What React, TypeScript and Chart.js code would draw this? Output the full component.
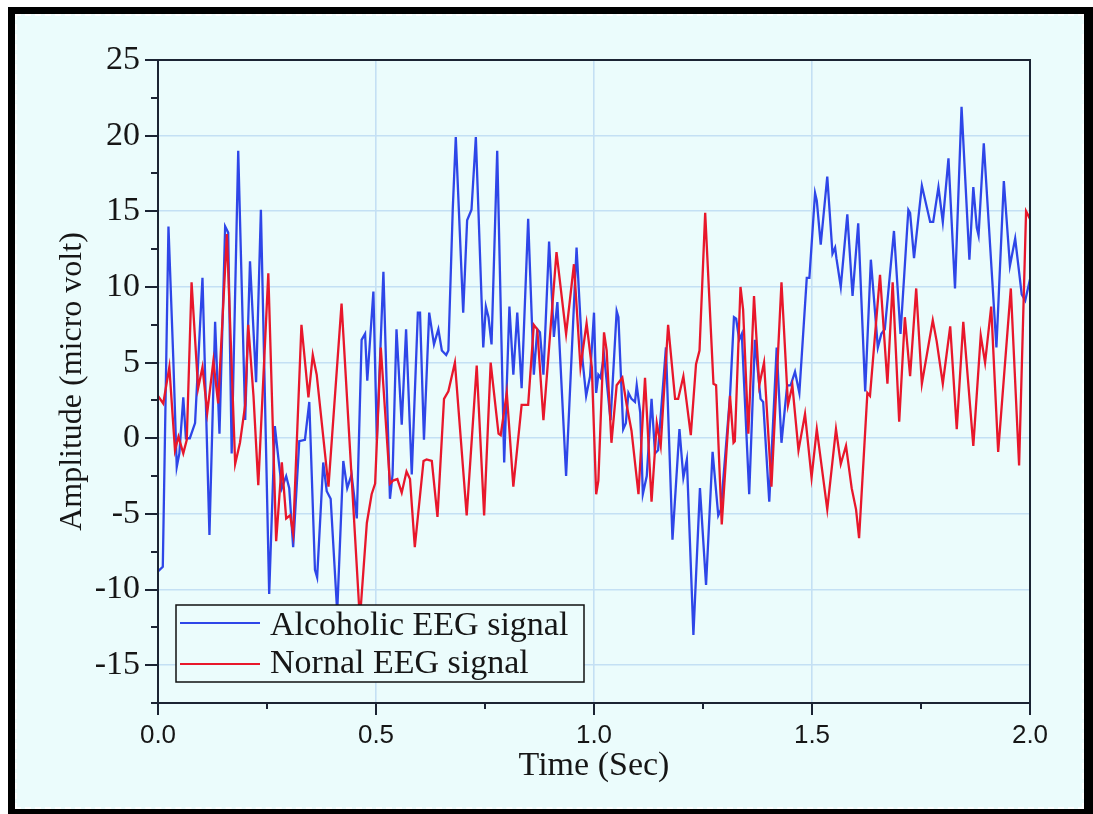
import React, { useEffect, useRef } from "react";
import { Chart, registerables } from "chart.js";

Chart.register(...registerables);

// ---- data ----
const alcoholicTime = [
  0.000, 0.011, 0.024, 0.035, 0.043, 0.049, 0.058, 0.064, 0.073, 0.085,
  0.102, 0.118, 0.131, 0.141, 0.154, 0.161, 0.169, 0.184, 0.200, 0.211,
  0.225, 0.236, 0.245, 0.255, 0.268, 0.276, 0.284, 0.294, 0.301, 0.310,
  0.324, 0.337, 0.347, 0.360, 0.365, 0.379, 0.387, 0.396, 0.411, 0.425,
  0.434, 0.444, 0.456, 0.467, 0.475, 0.480, 0.494, 0.502, 0.517, 0.532,
  0.538, 0.547, 0.559, 0.569, 0.582, 0.596, 0.601, 0.610, 0.622, 0.633,
  0.643, 0.651, 0.661, 0.666, 0.676, 0.683, 0.700, 0.709, 0.719, 0.729,
  0.746, 0.752, 0.758, 0.765, 0.778, 0.794, 0.806, 0.815, 0.824, 0.834,
  0.849, 0.862, 0.870, 0.876, 0.884, 0.897, 0.908, 0.916, 0.936, 0.960,
  0.974, 0.982, 0.991, 1.000, 1.005, 1.010, 1.015, 1.023, 1.038, 1.052,
  1.056, 1.067, 1.073, 1.079, 1.086, 1.094, 1.098, 1.106, 1.112, 1.121,
  1.132, 1.140, 1.147, 1.165, 1.180, 1.196, 1.205, 1.213, 1.228, 1.243,
  1.257, 1.272, 1.285, 1.291, 1.312, 1.321, 1.326, 1.333, 1.339, 1.356,
  1.369, 1.382, 1.388, 1.402, 1.419, 1.430, 1.443, 1.451, 1.461, 1.471,
  1.488, 1.494, 1.507, 1.511, 1.520, 1.535, 1.547, 1.553, 1.556, 1.566,
  1.581, 1.593, 1.606, 1.622, 1.635, 1.651, 1.659, 1.667, 1.688, 1.703,
  1.721, 1.725, 1.734, 1.752, 1.771, 1.778, 1.790, 1.800, 1.813, 1.828,
  1.843, 1.861, 1.870, 1.878, 1.882, 1.894, 1.923, 1.940, 1.954, 1.966,
  1.981, 1.989, 2.000,
];
const alcoholicAmp = [
  -8.8, -8.5, 14.0, 5.3, -1.9, -1.0, 2.7, 0.0, 0.0, 1.0,
  10.6, -6.4, 7.7, 0.3, 14.0, 13.6, -1.0, 19.0, 1.2, 11.7,
  3.7, 15.1, 3.0, -10.3, 0.8, -1.3, -3.3, -2.5, -3.3, -7.2,
  -0.2, -0.1, 2.4, -8.7, -9.2, -1.6, -3.5, -4.0, -11.5, -1.5,
  -3.3, -2.4, -5.3, 6.5, 6.9, 3.8, 9.7, -0.1, 11.0, -4.0,
  -2.4, 7.2, 0.9, 7.2, -2.4, 8.3, 8.3, -0.1, 8.3, 6.2,
  7.2, 5.8, 5.5, 5.8, 15.1, 19.9, 8.3, 14.4, 15.1, 19.9,
  6.0, 8.7, 8.0, 6.2, 19.0, -1.6, 8.7, 4.2, 8.3, 3.3,
  14.5, 4.2, 7.2, 7.0, 4.2, 13.0, 6.7, 9.0, -2.5, 12.6,
  5.1, 2.8, 4.1, 8.3, 3.0, 4.2, 4.0, 5.5, 1.2, 8.4,
  8.0, 0.6, 1.0, 3.0, 2.6, 2.4, 3.5, 1.7, -3.7, -2.5,
  2.6, -1.0, -0.8, 6.0, -6.7, 0.6, -2.6, -1.4, -13.0, -3.3,
  -9.7, -0.9, -5.1, -4.7, 2.8, 8.0, 7.9, 6.5, 6.9, -3.7,
  6.5, 2.6, 2.4, -4.2, 6.0, -0.3, 3.5, 3.5, 4.4, 3.0,
  10.6, 10.6, 16.2, 15.7, 12.8, 17.3, 12.2, 12.6, 11.9, 10.0,
  14.8, 9.4, 14.2, 3.1, 11.8, 6.0, 6.9, 7.2, 13.7, 6.9,
  15.1, 14.9, 11.9, 16.7, 14.3, 14.3, 16.6, 14.3, 18.5, 9.9,
  21.9, 11.8, 16.6, 13.9, 13.4, 19.5, 6.0, 17.0, 11.4, 13.2,
  9.5, 9.1, 10.5,
];

const normalTime = [
  0.000, 0.012, 0.026, 0.039, 0.047, 0.058, 0.066, 0.077, 0.092, 0.102,
  0.113, 0.127, 0.138, 0.158, 0.177, 0.188, 0.200, 0.207, 0.219, 0.230,
  0.253, 0.271, 0.284, 0.294, 0.303, 0.310, 0.329, 0.345, 0.355, 0.364,
  0.391, 0.421, 0.463, 0.479, 0.490, 0.498, 0.511, 0.532, 0.539, 0.549,
  0.559, 0.570, 0.578, 0.589, 0.609, 0.616, 0.628, 0.641, 0.656, 0.666,
  0.681, 0.708, 0.731, 0.748, 0.763, 0.781, 0.786, 0.800, 0.815, 0.834,
  0.849, 0.862, 0.870, 0.884, 0.914, 0.936, 0.954, 0.969, 0.983, 0.995,
  1.005, 1.010, 1.023, 1.029, 1.040, 1.052, 1.065, 1.075, 1.086, 1.102,
  1.117, 1.132, 1.144, 1.153, 1.170, 1.186, 1.193, 1.205, 1.222, 1.234,
  1.242, 1.255, 1.274, 1.280, 1.293, 1.312, 1.320, 1.323, 1.336, 1.342,
  1.354, 1.367, 1.379, 1.390, 1.407, 1.430, 1.445, 1.455, 1.469, 1.484,
  1.499, 1.511, 1.535, 1.555, 1.566, 1.578, 1.591, 1.601, 1.608, 1.627,
  1.633, 1.656, 1.673, 1.685, 1.700, 1.713, 1.725, 1.739, 1.752, 1.777,
  1.786, 1.800, 1.817, 1.832, 1.847, 1.870, 1.887, 1.897, 1.911, 1.927,
  1.956, 1.975, 1.991, 2.000,
];
const normalAmp = [
  2.8, 2.3, 4.7, -0.8, 0.1, -1.0, -0.1, 10.3, 3.3, 4.7,
  1.7, 5.1, 2.3, 13.5, -1.7, -0.3, 2.2, 7.5, 2.8, -3.1,
  10.9, -6.8, -1.6, -5.3, -5.1, -6.3, 7.5, 2.7, 5.5, 4.2,
  -3.2, 8.9, -12.0, -5.6, -3.7, -3.0, 6.0, -3.0, -2.8, -2.7,
  -3.6, -2.2, -2.7, -7.2, -1.5, -1.4, -1.5, -5.2, 2.6, 3.1,
  5.0, -5.1, 4.8, -5.1, 5.0, 0.3, 0.2, 3.0, -3.2, 2.2,
  2.2, 7.5, 7.2, 1.2, 12.3, 6.9, 11.5, 4.7, 7.6, 4.7,
  -3.7, -2.8, 7.0, 5.8, -0.3, 3.5, 4.0, 2.2, 0.5, -3.7,
  4.0, -4.2, 1.0, -0.5, 7.5, 2.6, 2.6, 4.1, 0.2, 4.9,
  5.8, 14.9, 3.6, 3.5, -5.7, 2.8, -0.3, -0.2, 10.0, 8.5,
  0.3, 9.4, 3.5, 5.0, -3.2, 10.3, 2.2, 3.5, -0.8, 1.6,
  -2.6, 0.6, -4.7, 0.6, -1.7, -0.5, -3.3, -4.7, -6.6, 3.0,
  2.8, 10.8, 3.6, 10.3, 1.1, 8.0, 4.1, 9.9, 3.6, 7.8,
  6.4, 3.6, 7.4, 0.6, 7.7, -0.5, 6.8, 5.0, 8.7, -0.9,
  9.9, -1.8, 15.0, 14.5,
];

const seriesLabels = ["Alcoholic EEG signal", "Nornal EEG signal"];
const xTickValues = [0, 0.5, 1.0, 1.5, 2.0];
const xMinorValues = [0.25, 0.75, 1.25, 1.75];
const yTickValues = [-15, -10, -5, 0, 5, 10, 15, 20, 25];
const yMinorValues = [-17.5, -12.5, -7.5, -2.5, 2.5, 7.5, 12.5, 17.5, 22.5];
const xRange = [0, 2];
const yRange = [-17.5, 25];

// ---- styling ----
const BLUE = "#2e46e8";
const RED = "#e8172b";
const BG = "#ebfcfc";
const GRID = "#c4e0f4";
const AXIS = "#1b2433";
const TEXT = "#161616";
const SERIF = '"Liberation Serif", "Times New Roman", serif';
const SANS = '"Liberation Sans", Arial, sans-serif';

const framePlugin = {
  id: "frameTicksLegend",
  afterDraw(chart: any) {
    const { ctx, chartArea: a, scales } = chart;
    const xs = scales.x;
    const ys = scales.y;
    ctx.save();
    // plot frame
    ctx.strokeStyle = AXIS;
    ctx.lineWidth = 2;
    ctx.strokeRect(a.left, a.top, a.right - a.left, a.bottom - a.top);
    // tick marks
    ctx.beginPath();
    yTickValues.forEach((v) => {
      const p = Math.round(ys.getPixelForValue(v));
      ctx.moveTo(a.left - 13, p);
      ctx.lineTo(a.left, p);
    });
    yMinorValues.forEach((v) => {
      const p = Math.round(ys.getPixelForValue(v));
      ctx.moveTo(a.left - 7, p);
      ctx.lineTo(a.left, p);
    });
    xTickValues.forEach((v) => {
      const p = Math.round(xs.getPixelForValue(v));
      ctx.moveTo(p, a.bottom);
      ctx.lineTo(p, a.bottom + 12);
    });
    xMinorValues.forEach((v) => {
      const p = Math.round(xs.getPixelForValue(v));
      ctx.moveTo(p, a.bottom);
      ctx.lineTo(p, a.bottom + 6);
    });
    ctx.stroke();

    // legend box
    const bx = a.left + 18;
    const bw = 408;
    const bh = 77;
    const by = a.bottom - 21 - bh;
    ctx.fillStyle = BG;
    ctx.fillRect(bx, by, bw, bh);
    ctx.strokeStyle = "#111";
    ctx.lineWidth = 1.5;
    ctx.strokeRect(bx, by, bw, bh);
    const rows = [
      { lineY: by + 18, baseY: by + 30 },
      { lineY: by + 59, baseY: by + 68 },
    ];
    chart.data.datasets.forEach((ds: any, i: number) => {
      const r = rows[i];
      ctx.strokeStyle = ds.borderColor;
      ctx.lineWidth = 2.2;
      ctx.beginPath();
      ctx.moveTo(bx + 4, r.lineY);
      ctx.lineTo(bx + 84, r.lineY);
      ctx.stroke();
      ctx.fillStyle = TEXT;
      ctx.font = `34px ${SERIF}`;
      ctx.textAlign = "left";
      ctx.textBaseline = "alphabetic";
      ctx.fillText(ds.label, bx + 94, r.baseY);
    });
    ctx.restore();
  },
};

export default function App() {
  const ref = useRef<HTMLCanvasElement>(null);

  useEffect(() => {
    const canvas = ref.current;
    if (!canvas) return;
    const alcoholicData = alcoholicTime.map((t, i) => ({ x: t, y: alcoholicAmp[i] }));
    const normalData = normalTime.map((t, i) => ({ x: t, y: normalAmp[i] }));
    const interior = (v: number, lo: number, hi: number) => v > lo + 1e-6 && v < hi - 1e-6;

    const chart = new Chart(canvas, {
      type: "line",
      data: {
        datasets: [
          {
            label: seriesLabels[0],
            data: alcoholicData,
            borderColor: BLUE,
            backgroundColor: BLUE,
            borderWidth: 2.3,
            pointRadius: 0,
            tension: 0,
            order: 2,
          },
          {
            label: seriesLabels[1],
            data: normalData,
            borderColor: RED,
            backgroundColor: RED,
            borderWidth: 2.3,
            pointRadius: 0,
            tension: 0,
            order: 1,
          },
        ],
      },
      options: {
        responsive: false,
        animation: false,
        layout: { padding: { left: 0, right: 63, top: 60, bottom: 0 } },
        plugins: { legend: { display: false }, tooltip: { enabled: false } },
        scales: {
          x: {
            type: "linear",
            min: xRange[0],
            max: xRange[1],
            afterBuildTicks: (s: any) => {
              s.ticks = xTickValues.map((v) => ({ value: v }));
            },
            afterFit: (s: any) => {
              s.height = 111;
            },
            grid: {
              drawTicks: false,
              lineWidth: 1.6,
              color: (c: any) =>
                c.tick && interior(c.tick.value, xRange[0], xRange[1]) ? GRID : "rgba(0,0,0,0)",
            },
            border: { display: false },
            ticks: {
              padding: 17,
              autoSkip: false,
              maxRotation: 0,
              color: TEXT,
              font: { family: SANS, size: 26 },
              callback: (v: any) => Number(v).toFixed(1),
            },
            title: {
              display: true,
              text: "Time (Sec)",
              color: TEXT,
              font: { family: SERIF, size: 34 },
              padding: { top: 0, bottom: 28 },
            },
          },
          y: {
            type: "linear",
            min: yRange[0],
            max: yRange[1],
            afterBuildTicks: (s: any) => {
              s.ticks = yTickValues.map((v) => ({ value: v }));
            },
            afterFit: (s: any) => {
              s.width = 158;
            },
            grid: {
              drawTicks: false,
              lineWidth: 1.6,
              color: (c: any) =>
                c.tick && interior(c.tick.value, yRange[0], yRange[1]) ? GRID : "rgba(0,0,0,0)",
            },
            border: { display: false },
            ticks: {
              padding: 18,
              autoSkip: false,
              color: TEXT,
              font: { family: SERIF, size: 34 },
              callback: (v: any) => String(v),
            },
            title: {
              display: true,
              text: "Amplitude (micro volt)",
              color: TEXT,
              font: { family: SERIF, size: 32 },
              padding: { top: 53, bottom: 0 },
            },
          },
        },
      },
      plugins: [framePlugin],
    } as any);

    return () => chart.destroy();
  }, []);

  return (
    <div
      style={{
        position: "absolute",
        left: 0,
        top: 0,
        width: 1093,
        height: 814,
        background: "#ffffff",
        overflow: "hidden",
      }}
    >
      <div
        style={{ position: "absolute", left: 8, top: 7, width: 1085, height: 807, background: "#000" }}
      />
      <div
        style={{
          position: "absolute",
          left: 15,
          top: 14,
          width: 1069,
          height: 795,
          boxSizing: "border-box",
          border: "2px dashed #ffffff",
          background: BG,
        }}
      />
      <canvas
        ref={ref}
        width={1093}
        height={814}
        style={{ position: "absolute", left: 0, top: 0, width: 1093, height: 814 }}
      />
    </div>
  );
}
